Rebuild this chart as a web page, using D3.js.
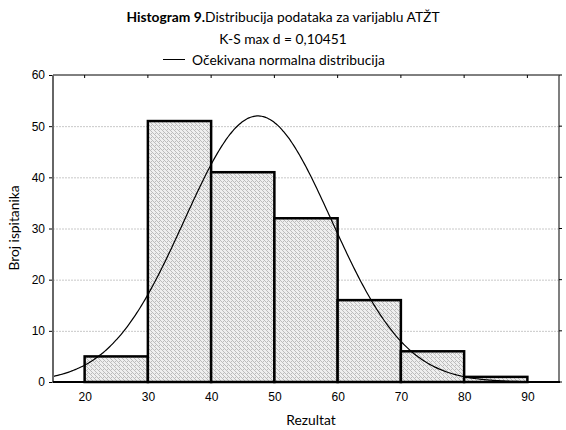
<!DOCTYPE html>
<html><head><meta charset="utf-8">
<script src="https://cdn.jsdelivr.net/npm/d3@7"></script>
<style>body{margin:0;background:#fff}</style>
</head><body>
<svg id="c" width="566" height="430"></svg>
<script>
const binStarts = [20, 30, 40, 50, 60, 70, 80];
const binWidth = 10;
const counts = [5, 51, 41, 32, 16, 6, 1];
const xTicks = [20, 30, 40, 50, 60, 70, 80, 90];
const yTicks = [0, 10, 20, 30, 40, 50, 60];
const normalMean = [47.4];
const normalSd = [11.66];
const totalN = [152];

const svg = d3.select("#c");
const L = 53, R = 559, T = 75, B = 382;
const x = d3.scaleLinear().domain([15, 95]).range([L, R]);
const y = d3.scaleLinear().domain([0, 60]).range([B, T]);

const defs = svg.append("defs");
const pat = defs.append("pattern").attr("id","hatch").attr("patternUnits","userSpaceOnUse").attr("width",4).attr("height",4);
pat.append("rect").attr("width",4).attr("height",4).attr("fill","#efefef");
[[0,0],[2,0],[1,1],[0,2],[2,2],[3,3],[3,1],[1,3]].filter((p,i)=>i%2===0 || i===5).forEach(([a,b]) =>
  pat.append("rect").attr("x",a).attr("y",b).attr("width",1).attr("height",1).attr("fill","#bcbcbc"));

// grid
svg.append("g").selectAll("line").data(yTicks.filter(d=>d>0 && d<60)).join("line")
  .attr("x1",L).attr("x2",R).attr("y1",d=>y(d)+0.5).attr("y2",d=>y(d)+0.5)
  .attr("stroke","#c8c8c8").attr("stroke-width",1).attr("stroke-dasharray","2,1");

// bars
svg.append("g").selectAll("rect").data(counts).join("rect")
  .attr("x",(d,i)=>x(binStarts[i]))
  .attr("width",(d,i)=>x(binStarts[i]+binWidth)-x(binStarts[i]))
  .attr("y",d=>y(d)).attr("height",d=>y(0)-y(d))
  .attr("fill","url(#hatch)").attr("stroke","#000").attr("stroke-width",2.5);

// normal curve
const mu = normalMean[0], sd = normalSd[0], N = totalN[0];
const pts = d3.range(15, 95.01, 0.25).map(v => [v, N*binWidth/(sd*Math.sqrt(2*Math.PI))*Math.exp(-0.5*((v-mu)/sd)**2)]);
svg.append("path").datum(pts)
  .attr("d", d3.line().x(d=>x(d[0])).y(d=>y(d[1])).curve(d3.curveBasis))
  .attr("fill","none").attr("stroke","#000").attr("stroke-width",1.2);

// frame
svg.append("line").attr("x1",L).attr("x2",R).attr("y1",T).attr("y2",T).attr("stroke","#000").attr("stroke-width",1);
svg.append("line").attr("x1",R).attr("x2",R).attr("y1",T).attr("y2",B).attr("stroke","#555").attr("stroke-width",1.5);
svg.append("line").attr("x1",L).attr("x2",L).attr("y1",T).attr("y2",B+1).attr("stroke","#666").attr("stroke-width",2);
svg.append("line").attr("x1",L).attr("x2",R+1).attr("y1",B).attr("y2",B).attr("stroke","#000").attr("stroke-width",2);

// top ticks
svg.append("g").selectAll("line").data(xTicks).join("line")
  .attr("x1",d=>x(d)).attr("x2",d=>x(d)).attr("y1",T).attr("y2",T+3).attr("stroke","#000");
// right ticks
svg.append("g").selectAll("line").data(yTicks).join("line")
  .attr("x1",R).attr("x2",R+3).attr("y1",d=>y(d)).attr("y2",d=>y(d)).attr("stroke","#000");

// axes
const yAxis = svg.append("g").attr("transform",`translate(${L-1},0)`)
  .call(d3.axisLeft(y).tickValues(yTicks).tickSize(3).tickFormat(d3.format("d")));
yAxis.select(".domain").remove();
yAxis.selectAll("text").attr("font-family","Liberation Sans, Arial").attr("font-size",12).attr("fill","#000").attr("dx","-1");

const xAxis = svg.append("g").attr("transform",`translate(0,${B})`)
  .call(d3.axisBottom(x).tickValues(xTicks).tickSize(0).tickFormat(d3.format("d")));
xAxis.select(".domain").remove();
xAxis.selectAll("text").attr("font-family","Liberation Sans, Arial").attr("font-size",12).attr("fill","#000").attr("dy","1.35em");

const f = "Lato, 'Open Sans', sans-serif";
const fs = 13.8;
// titles
const t1 = svg.append("text").attr("x",283).attr("y",22).attr("text-anchor","middle")
  .attr("font-family",f).attr("font-size",fs).attr("fill","#000");
t1.append("tspan").attr("font-weight","bold").text("Histogram 9.");
t1.append("tspan").text("Distribucija podataka za varijablu ATŽT");
svg.append("text").attr("x",283).attr("y",44).attr("text-anchor","middle")
  .attr("font-family",f).attr("font-size",fs).attr("fill","#000").text("K-S max d = 0,10451");
svg.append("line").attr("x1",163).attr("x2",185).attr("y1",59.5).attr("y2",59.5).attr("stroke","#000").attr("stroke-width",1);
svg.append("text").attr("x",192).attr("y",64.5)
  .attr("font-family",f).attr("font-size",fs).attr("fill","#000").text("Očekivana normalna distribucija");

svg.append("text").attr("x",311).attr("y",425).attr("text-anchor","middle")
  .attr("font-family",f).attr("font-size",fs).attr("fill","#000").text("Rezultat");
svg.append("text").attr("transform","translate(19,228) rotate(-90)").attr("text-anchor","middle")
  .attr("font-family",f).attr("font-size",fs).attr("fill","#000").text("Broj ispitanika");
</script>
</body></html>
